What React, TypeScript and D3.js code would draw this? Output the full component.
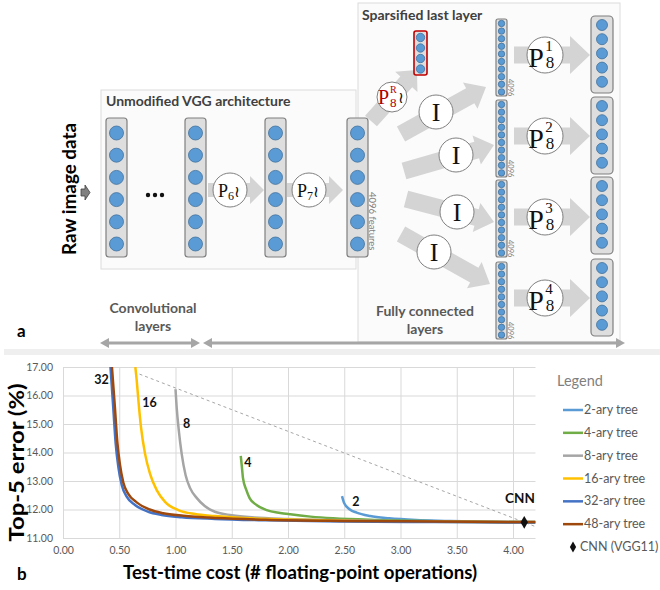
import React, { useEffect, useRef } from "react";
import * as d3 from "d3";

// panel b: values
const xTicks = [0, 0.5, 1, 1.5, 2, 2.5, 3, 3.5, 4];
const yTicks = [11, 12, 13, 14, 15, 16, 17];

const treeNames = ["2-ary tree", "4-ary tree", "8-ary tree", "16-ary tree", "32-ary tree", "48-ary tree"];
const treeColors = ["#5B9BD5", "#70AD47", "#A5A5A5", "#FFC000", "#4472C4", "#9E480E"];

const cost2 = [2.48, 2.5, 2.55, 2.61, 2.73, 2.9, 3.14, 3.44, 3.7, 4.1, 4.2];
const err2 = [12.47, 12.22, 12.0, 11.89, 11.77, 11.69, 11.63, 11.6, 11.57, 11.55, 11.55];
const cost4 = [1.58, 1.59, 1.6, 1.63, 1.66, 1.72, 1.81, 1.93, 2.02, 2.2, 2.4, 2.8, 3.3, 3.8, 4.2];
const err4 = [13.88, 13.5, 13.1, 12.68, 12.39, 12.16, 11.98, 11.88, 11.83, 11.75, 11.69, 11.63, 11.59, 11.57, 11.56];
const cost8 = [1.0, 1.01, 1.03, 1.055, 1.09, 1.13, 1.19, 1.26, 1.35, 1.5, 1.7, 2.0, 2.4, 3.0, 3.6, 4.2];
const err8 = [16.22, 15.6, 14.75, 13.95, 13.2, 12.75, 12.4, 12.12, 11.92, 11.8, 11.72, 11.67, 11.63, 11.59, 11.57, 11.56];
const cost16 = [0.643, 0.655, 0.67, 0.693, 0.729, 0.773, 0.833, 0.907, 1.025, 1.173, 1.351, 1.6, 2.0, 2.6, 3.3, 4.2];
const err16 = [17.0, 16.54, 15.84, 14.9, 13.96, 13.26, 12.68, 12.27, 11.98, 11.84, 11.77, 11.7, 11.65, 11.6, 11.57, 11.55];
const cost32 = [0.422, 0.448, 0.468, 0.492, 0.522, 0.566, 0.64, 0.758, 0.877, 1.055, 1.35, 1.8, 2.5, 3.3, 4.2];
const err32 = [17.0, 15.49, 14.33, 13.49, 12.86, 12.45, 12.16, 11.92, 11.81, 11.73, 11.67, 11.62, 11.58, 11.56, 11.54];
const cost48 = [0.435, 0.462, 0.482, 0.506, 0.536, 0.58, 0.655, 0.77, 0.89, 1.07, 1.37, 1.8, 2.5, 3.3, 4.2];
const err48 = [17.0, 15.55, 14.4, 13.58, 12.95, 12.55, 12.25, 12.0, 11.87, 11.78, 11.7, 11.64, 11.6, 11.58, 11.56];

const treeCosts = [cost2, cost4, cost8, cost16, cost32, cost48];
const treeErrs = [err2, err4, err8, err16, err32, err48];

const curveLabels = ["2", "4", "8", "16", "32"];
const labelCost = [2.604, 1.644, 1.098, 0.769, 0.342];
const labelErr = [12.12, 13.49, 14.86, 15.6, 16.4];

const cnnCost = 4.1;
const cnnErr = 11.55;
const trendCost = [0.68, 4.2];
const trendErr = [16.75, 11.4];

const sans = "Lato, 'Open Sans', sans-serif";
const serif = "'Liberation Serif', 'DejaVu Serif', serif";

const App = () => {
  const svgRef = useRef<SVGSVGElement>(null);

  useEffect(() => {
    const svg = d3.select(svgRef.current);
    svg.selectAll("*").remove();

    // ---------- panel a: the network diagram ----------
    const a = svg.append("g");

    const fatArrow = (x1, y1, x2, y2, s, h, hl, fill = "#d4d4d4") => {
      const L = Math.hypot(x2 - x1, y2 - y1);
      const ux = (x2 - x1) / L, uy = (y2 - y1) / L;
      const nx = -uy, ny = ux;
      const bx = x2 - ux * hl, by = y2 - uy * hl;
      const pts = [
        [x1 + nx * s, y1 + ny * s], [bx + nx * s, by + ny * s], [bx + nx * h, by + ny * h],
        [x2, y2], [bx - nx * h, by - ny * h], [bx - nx * s, by - ny * s], [x1 - nx * s, y1 - ny * s],
      ];
      return a.append("polygon").attr("points", pts.map(p => p.join(",")).join(" ")).attr("fill", fill);
    };

    const column = (x, y, w, h, n, r, first, step, stroke = "#7f7f7f", rx = 3) => {
      a.append("rect").attr("x", x).attr("y", y).attr("width", w).attr("height", h).attr("rx", rx)
        .attr("fill", "#dedede").attr("stroke", stroke).attr("stroke-width", stroke === "#7f7f7f" ? 1.2 : 1.6);
      a.selectAll(null).data(d3.range(n)).join("circle")
        .attr("cx", x + w / 2).attr("cy", i => y + first + i * step).attr("r", r)
        .attr("fill", "#5b9bd5").attr("stroke", "#41719c").attr("stroke-width", 0.8);
    };

    const bubble = (cx, cy, r) =>
      a.append("circle").attr("cx", cx).attr("cy", cy).attr("r", r)
        .attr("fill", "#fff").attr("stroke", "#808080").attr("stroke-width", 1);

    a.append("rect").attr("x", 4).attr("y", 349).attr("width", 656).attr("height", 6).attr("fill", "#efefef");

    a.append("rect").attr("x", 101).attr("y", 90).attr("width", 255).attr("height", 179)
      .attr("fill", "#fbfbfb").attr("stroke", "#dcdcdc");
    a.append("rect").attr("x", 358).attr("y", 3).attr("width", 262).attr("height", 339)
      .attr("fill", "#fbfbfb").attr("stroke", "#dcdcdc");

    a.append("text").attr("x", 106).attr("y", 106).text("Unmodified VGG architecture")
      .attr("font-family", sans).attr("font-weight", 700).attr("font-size", 14).attr("fill", "#404040");
    a.append("text").attr("x", 362).attr("y", 20).text("Sparsified last layer")
      .attr("font-family", sans).attr("font-weight", 700).attr("font-size", 14).attr("fill", "#404040");

    // arrows sit under everything
    fatArrow(208, 190, 264, 190, 7, 14, 14);
    fatArrow(287, 190, 343, 190, 7, 14, 14);
    fatArrow(371, 121, 417, 70, 8, 15, 16);
    fatArrow(401, 134, 486, 87, 8.5, 15, 18);
    fatArrow(404, 171, 494, 145, 8.5, 15, 18);
    fatArrow(406, 199, 494, 222, 8.5, 15, 18);
    fatArrow(401, 234, 490, 284, 8.5, 15, 18);
    const outY = [55, 136, 217, 298];
    outY.forEach(cy => fatArrow(514, cy, 590, cy, 8.5, 19, 20));

    // raw input arrow
    a.append("polygon").attr("points", "81,189 85,189 85,185 90,192.5 85,200 85,196 81,196")
      .attr("fill", "#808080").attr("stroke", "#404040").attr("stroke-width", 0.8);
    a.append("text").attr("transform", "translate(76,189) rotate(-90)").attr("text-anchor", "middle")
      .text("Raw image data").attr("font-family", sans).attr("font-weight", 700).attr("font-size", 18)
      .attr("textLength", 132).attr("lengthAdjust", "spacingAndGlyphs").attr("fill", "#000");

    [106, 185, 265, 347].forEach(x => column(x, 118, 21, 139, 6, 7, 15, 22.2));
    [148, 155, 162].forEach(x => a.append("circle").attr("cx", x).attr("cy", 195).attr("r", 2.2).attr("fill", "#111"));

    a.append("text").attr("transform", "translate(369,192) rotate(90)").text("4096 features")
      .attr("font-family", sans).attr("font-size", 9.5).attr("fill", "#7f7f7f");

    column(414, 31, 13, 44, 4, 4.2, 6.5, 10.5, "#c00000", 2);

    const thinTop = [19, 100, 180, 262];
    thinTop.forEach(t => {
      column(496, t, 11, 77, 10, 3.2, 4.5, 7.6, "#7f7f7f", 2);
      a.append("text").attr("transform", `translate(508,${t + 60}) rotate(90)`).text("4096")
        .attr("font-family", sans).attr("font-size", 7.5).attr("fill", "#7f7f7f");
    });
    const outTop = [16, 97, 177, 259];
    outTop.forEach(t => column(591, t, 22, 77, 5, 5.5, 9, 14.2, "#7f7f7f", 4));

    // operator bubbles
    bubble(230, 190, 17);
    a.append("text").attr("x", 218).attr("y", 197).attr("font-family", serif).attr("font-size", 18).attr("fill", "#111")
      .call(t => { t.append("tspan").text("P"); t.append("tspan").attr("font-size", 12).attr("dy", 3).text("6"); t.append("tspan").attr("dy", -3).attr("font-size", 16).text("≀"); });
    bubble(309, 190, 17);
    a.append("text").attr("x", 297).attr("y", 197).attr("font-family", serif).attr("font-size", 18).attr("fill", "#111")
      .call(t => { t.append("tspan").text("P"); t.append("tspan").attr("font-size", 12).attr("dy", 3).text("7"); t.append("tspan").attr("dy", -3).attr("font-size", 16).text("≀"); });

    bubble(392, 97, 15);
    a.append("text").attr("x", 378).attr("y", 104).attr("font-family", serif).attr("font-size", 20).attr("fill", "#b00000").text("P");
    a.append("text").attr("x", 390).attr("y", 93).attr("font-family", serif).attr("font-size", 10).attr("fill", "#b00000").text("R");
    a.append("text").attr("x", 390).attr("y", 107).attr("font-family", serif).attr("font-size", 13).attr("fill", "#b00000").text("8");
    a.append("text").attr("x", 398).attr("y", 103).attr("font-family", serif).attr("font-size", 16).attr("fill", "#111").text("≀");

    const iPos = [[436, 112], [456, 155], [457, 212], [434, 252]];
    iPos.forEach(([cx, cy]) => {
      bubble(cx, cy, 17);
      a.append("text").attr("x", cx).attr("y", cy + 9).attr("text-anchor", "middle")
        .attr("font-family", serif).attr("font-size", 26).attr("fill", "#111").text("I");
    });

    outY.forEach((cy, i) => {
      bubble(545, cy, 18);
      a.append("text").attr("x", 536).attr("y", cy + 12).attr("text-anchor", "middle")
        .attr("font-family", serif).attr("font-size", 28).attr("fill", "#111").text("P");
      a.append("text").attr("x", 549).attr("y", cy - 4).attr("text-anchor", "middle")
        .attr("font-family", serif).attr("font-size", 15).attr("fill", "#111").text(String(i + 1));
      a.append("text").attr("x", 550).attr("y", cy + 13).attr("text-anchor", "middle")
        .attr("font-family", serif).attr("font-size", 17).attr("fill", "#111").text("8");
    });

    const grayText = (x, y, s) =>
      a.append("text").attr("x", x).attr("y", y).attr("text-anchor", "middle").text(s)
        .attr("font-family", sans).attr("font-weight", 700).attr("font-size", 14).attr("fill", "#595959");
    grayText(153, 313, "Convolutional");
    grayText(153, 331, "layers");
    grayText(425, 316, "Fully connected");
    grayText(425, 334, "layers");

    const dblArrow = (x1, x2, yy) => {
      a.append("line").attr("x1", x1 + 6).attr("x2", x2 - 6).attr("y1", yy).attr("y2", yy)
        .attr("stroke", "#a6a6a6").attr("stroke-width", 3);
      a.append("polygon").attr("points", `${x1},${yy} ${x1 + 9},${yy - 5} ${x1 + 9},${yy + 5}`).attr("fill", "#a6a6a6");
      a.append("polygon").attr("points", `${x2},${yy} ${x2 - 9},${yy - 5} ${x2 - 9},${yy + 5}`).attr("fill", "#a6a6a6");
    };
    dblArrow(100, 200, 343);
    dblArrow(203, 625, 343);

    a.append("text").attr("x", 17).attr("y", 337).text("a")
      .attr("font-family", sans).attr("font-weight", 700).attr("font-size", 17).attr("fill", "#000");

    // ---------- panel b: the chart ----------
    const b = svg.append("g");
    const x = d3.scaleLinear().domain([0, 4.2]).range([63, 535.5]);
    const y = d3.scaleLinear().domain([11, 17]).range([538, 367]);

    const yAxis = b.append("g").attr("transform", `translate(${x(0)},0)`)
      .call(d3.axisLeft(y).tickValues(yTicks).tickFormat(d3.format(".2f")).tickSize(-(x(4.2) - x(0))).tickPadding(10));
    const xAxis = b.append("g").attr("transform", `translate(0,${y(11)})`)
      .call(d3.axisBottom(x).tickValues(xTicks).tickFormat(d3.format(".2f")).tickSize(-(y(11) - y(17))).tickPadding(9));
    [yAxis, xAxis].forEach(ax => {
      ax.select(".domain").remove();
      ax.selectAll("line").attr("stroke", "#d9d9d9");
      ax.selectAll("text").attr("font-family", sans).attr("font-size", 10.5).attr("fill", "#595959");
    });

    b.append("clipPath").attr("id", "plotClip").append("rect")
      .attr("x", x(0)).attr("y", y(17)).attr("width", x(4.2) - x(0)).attr("height", y(11) - y(17) + 2);

    const plot = b.append("g").attr("clip-path", "url(#plotClip)");
    plot.append("line").attr("x1", x(trendCost[0])).attr("y1", y(trendErr[0]))
      .attr("x2", x(trendCost[1])).attr("y2", y(trendErr[1]))
      .attr("stroke", "#a6a6a6").attr("stroke-width", 1).attr("stroke-dasharray", "3,3");

    const line = d3.line<number>().curve(d3.curveMonotoneX);
    treeCosts.forEach((cs, k) => {
      const pts = cs.map((c, i) => [x(c), y(treeErrs[k][i])] as [number, number]);
      plot.append("path").attr("d", line(pts as any)).attr("fill", "none")
        .attr("stroke", treeColors[k]).attr("stroke-width", 2.5);
    });

    b.append("path").attr("d", d3.symbol(d3.symbolDiamond, 48)())
      .attr("transform", `translate(${x(cnnCost)},${y(cnnErr)})`).attr("fill", "#111");

    curveLabels.forEach((s, i) => {
      b.append("text").attr("x", x(labelCost[i])).attr("y", y(labelErr[i])).attr("text-anchor", "middle")
        .text(s).attr("font-family", sans).attr("font-weight", 700).attr("font-size", 12.5).attr("fill", "#111");
    });
    b.append("text").attr("x", x(4.062)).attr("y", y(12.23)).attr("text-anchor", "middle").text("CNN")
      .attr("font-family", sans).attr("font-weight", 700).attr("font-size", 13.5).attr("fill", "#111");

    b.append("text").attr("transform", `translate(24,${(y(11) + y(17)) / 2 + 10}) rotate(-90)`).attr("text-anchor", "middle")
      .text("Top-5 error (%)").attr("font-family", sans).attr("font-weight", 700).attr("font-size", 20)
      .attr("textLength", 158).attr("lengthAdjust", "spacingAndGlyphs").attr("fill", "#000");
    b.append("text").attr("x", 300).attr("y", 579).attr("text-anchor", "middle")
      .text("Test-time cost (# floating-point operations)")
      .attr("font-family", sans).attr("font-weight", 700).attr("font-size", 18)
      .attr("textLength", 354).attr("lengthAdjust", "spacingAndGlyphs").attr("fill", "#000");
    b.append("text").attr("x", 17).attr("y", 580).text("b")
      .attr("font-family", sans).attr("font-weight", 700).attr("font-size", 17).attr("fill", "#000");

    // legend
    b.append("text").attr("x", 557).attr("y", 386).text("Legend")
      .attr("font-family", sans).attr("font-size", 14.5).attr("fill", "#7f7f7f");
    const legY = d3.scaleLinear().domain([0, 6]).range([410, 547]);
    treeNames.forEach((nm, i) => {
      b.append("line").attr("x1", 563).attr("x2", 583).attr("y1", legY(i)).attr("y2", legY(i))
        .attr("stroke", treeColors[i]).attr("stroke-width", 2.5);
      b.append("text").attr("x", 584).attr("y", legY(i) + 4).text(nm)
        .attr("font-family", sans).attr("font-size", 12.5).attr("fill", "#595959");
    });
    b.append("path").attr("d", d3.symbol(d3.symbolDiamond, 34)())
      .attr("transform", `translate(573,${legY(6)})`).attr("fill", "#111");
    b.append("text").attr("x", 580).attr("y", legY(6) + 4).text("CNN (VGG11)")
      .attr("font-family", sans).attr("font-size", 12.5).attr("fill", "#595959");
  }, []);

  return (
    <svg ref={svgRef} width={660} height={590}
      style={{ position: "absolute", left: 0, top: 0, background: "#fff" }} />
  );
};

export default App;
